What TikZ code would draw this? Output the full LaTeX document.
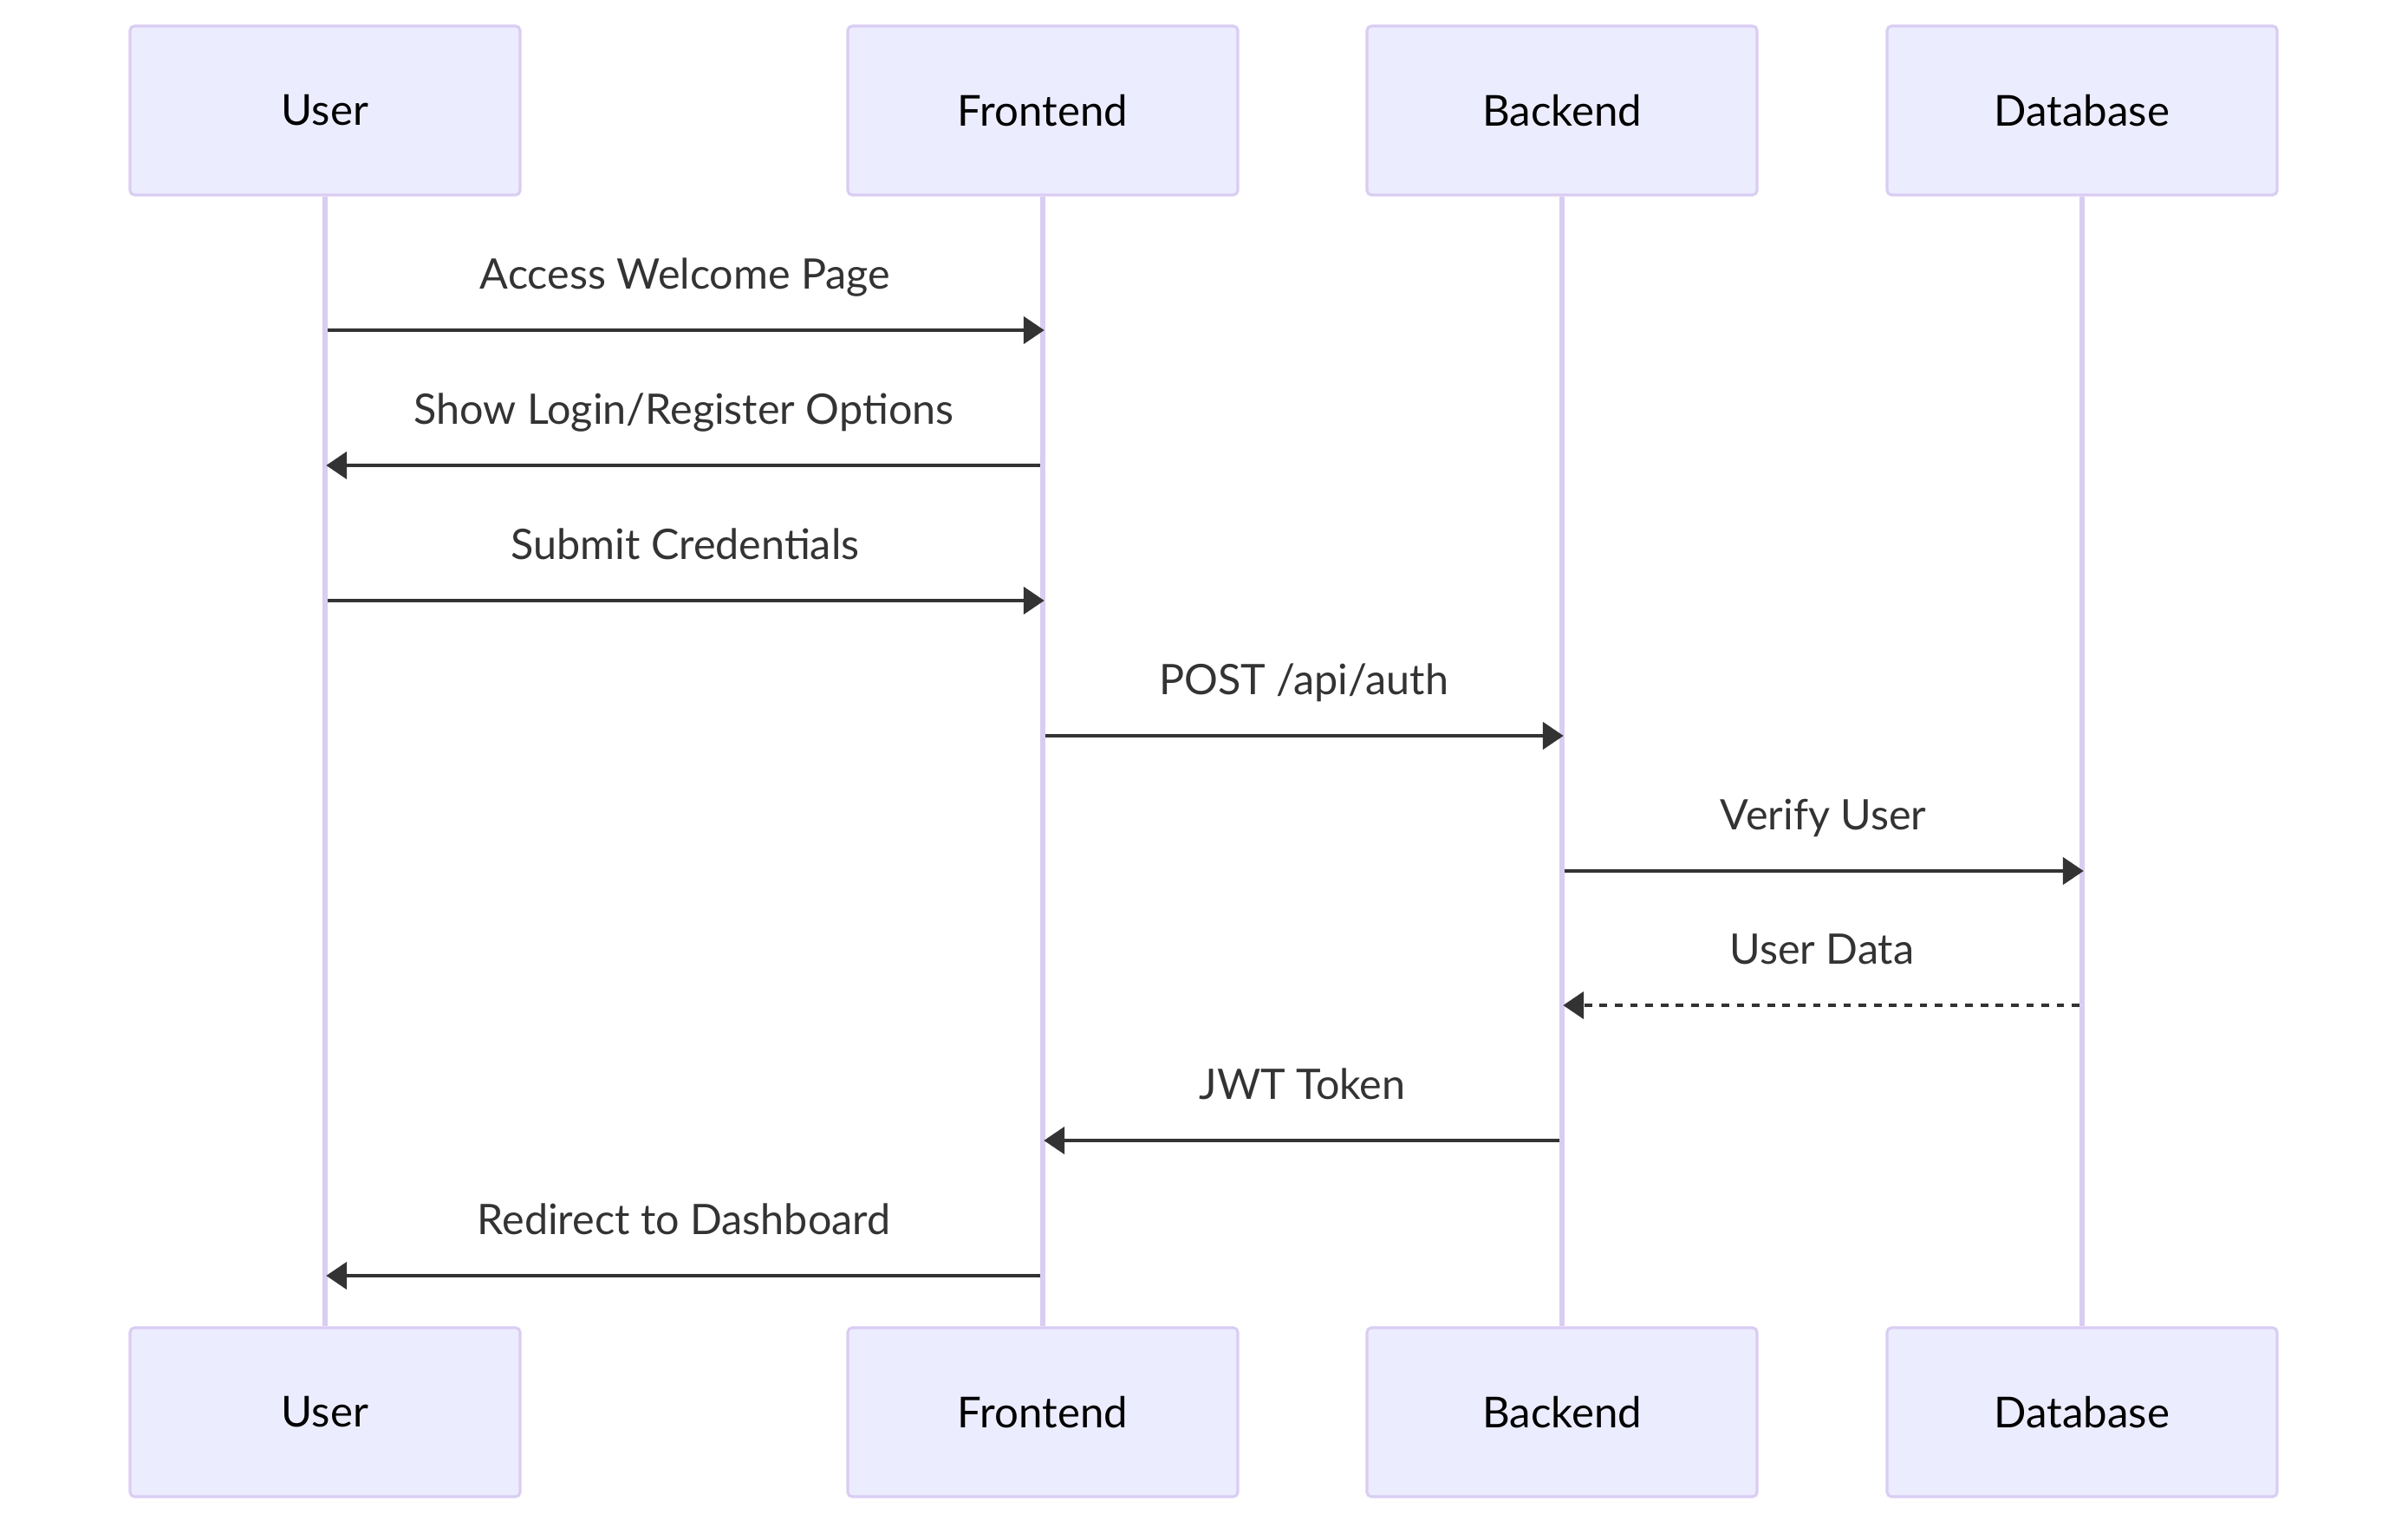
\documentclass[tikz,border=0pt]{standalone}
\usepackage{fontspec}
\setmainfont{Lato}
\usetikzlibrary{arrows.meta}
\definecolor{actorfill}{HTML}{ECECFF}
\definecolor{actorline}{HTML}{D9CDF2}
\definecolor{msgcol}{HTML}{333333}
\tikzset{
  actor/.style={draw=actorline, line width=0.9pt, fill=actorfill, rounded corners=1.5pt,
    minimum width=4.5cm, minimum height=1.95cm, font=\fontsize{14}{16}\selectfont, text=black},
  lifeline/.style={draw=actorline, line width=1.7pt},
  msg/.style={draw=msgcol, line width=1.4pt, -{Triangle[length=6.8pt, width=8.8pt]}, shorten >=-0.5pt},
  reply/.style={msg, dash pattern=on 2.5pt off 2.5pt},
  msglabel/.style={midway, anchor=base, yshift=0.48cm, text=msgcol, font=\fontsize{13.8}{16}\selectfont}
}
\begin{document}
\begin{tikzpicture}
        \useasboundingbox (0,0) rectangle (27.78,-17.61);

        % Actor boxes, top row
        \node[actor] (userT) at (3.75, -1.275)  {User};
        \node[actor] (frontT) at (12.03, -1.275) {Frontend};
        \node[actor] (backT) at (18.02, -1.275)  {Backend};
        \node[actor] (dbT) at (24.02, -1.275)    {Database};

        % Actor boxes, bottom row
        \node[actor] (userB) at (3.75, -16.295)  {User};
        \node[actor] (frontB) at (12.03, -16.295) {Frontend};
        \node[actor] (backB) at (18.02, -16.295)  {Backend};
        \node[actor] (dbB) at (24.02, -16.295)    {Database};

        % Lifelines
        \draw[lifeline] (userT) -- (userB);
        \draw[lifeline] (frontT) -- (frontB);
        \draw[lifeline] (backT) -- (backB);
        \draw[lifeline] (dbT) -- (dbB);

        % Message end points on the lifelines
        \coordinate (U1) at (3.75, -3.81);   % User, step 1
        \coordinate (F1) at (12.03, -3.81);  % Frontend, step 1
        \coordinate (U2) at (3.75, -5.37);   % User, step 2
        \coordinate (F2) at (12.03, -5.37);  % Frontend, step 2
        \coordinate (U3) at (3.75, -6.93);   % User, step 3
        \coordinate (F3) at (12.03, -6.93);  % Frontend, step 3
        \coordinate (F4) at (12.03, -8.49);  % Frontend, step 4
        \coordinate (B4) at (18.02, -8.49);  % Backend, step 4
        \coordinate (B5) at (18.02, -10.05); % Backend, step 5
        \coordinate (D5) at (24.02, -10.05); % Database, step 5
        \coordinate (B6) at (18.02, -11.60); % Backend, step 6
        \coordinate (D6) at (24.02, -11.60); % Database, step 6
        \coordinate (F7) at (12.03, -13.16); % Frontend, step 7
        \coordinate (B7) at (18.02, -13.16); % Backend, step 7
        \coordinate (U8) at (3.75, -14.72);  % User, step 8
        \coordinate (F8) at (12.03, -14.72); % Frontend, step 8

        % Messages
        \draw[msg] ([xshift=0.03cm]U1) -- (F1) node[msglabel] {Access Welcome Page};
        \draw[msg] ([xshift=-0.03cm]F2) -- ([xshift=0.03cm]U2) node[msglabel] {Show Login/Register Options};
        \draw[msg] ([xshift=0.03cm]U3) -- (F3) node[msglabel] {Submit Credentials};
        \draw[msg] ([xshift=0.03cm]F4) -- (B4) node[msglabel] {POST /api/auth};
        \draw[msg] ([xshift=0.03cm]B5) -- (D5) node[msglabel] {Verify User};
        \draw[reply] ([xshift=-0.03cm]D6) -- ([xshift=0.03cm]B6) node[msglabel] {User Data};
        \draw[msg] ([xshift=-0.03cm]B7) -- ([xshift=0.03cm]F7) node[msglabel] {JWT Token};
        \draw[msg] ([xshift=-0.03cm]F8) -- ([xshift=0.03cm]U8) node[msglabel] {Redirect to Dashboard};

    \end{tikzpicture}
\end{document}
